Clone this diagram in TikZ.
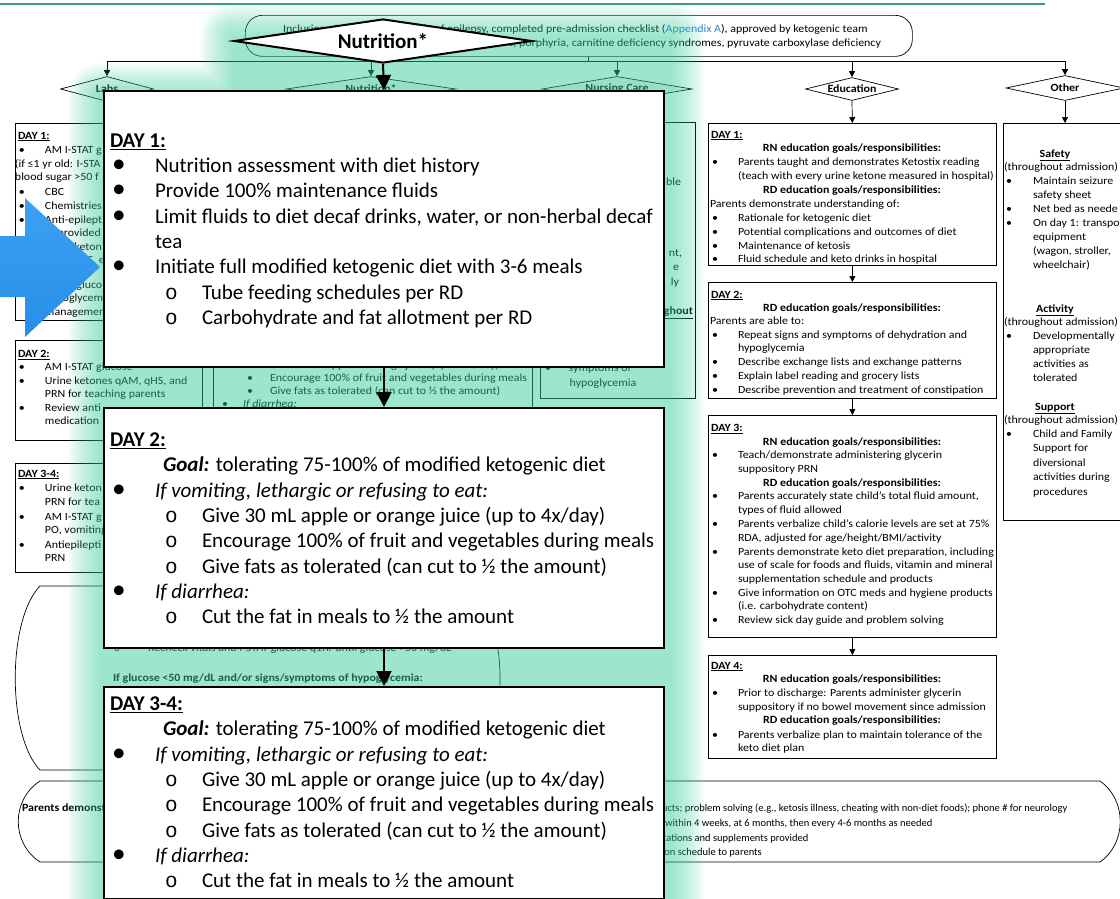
\documentclass[tikz,border=0pt]{standalone}
\usepackage{fontspec}
\setmainfont{Carlito}
\newfontfamily\chartfont{Carlito}[FakeStretch=1.085]
\newfontfamily\courfont{Liberation Mono}
\usetikzlibrary{shapes.geometric,arrows.meta}

\definecolor{glowc}{rgb}{0.24,0.80,0.61}
\definecolor{rulegreen}{rgb}{0.22,0.62,0.47}
\definecolor{linkblue}{rgb}{0.16,0.50,0.86}
\definecolor{arrowtop}{rgb}{0.24,0.63,0.95}
\definecolor{arrowbot}{rgb}{0.15,0.56,0.91}

\newcounter{tl}
\newcommand{\putL}[4][]{\stepcounter{tl}\node[txt,#1] (tx\arabic{tl}) at (#2,#3) {#4};}
\newcommand{\putC}[4][]{\stepcounter{tl}\node[ctxt,#1] (tx\arabic{tl}) at (#2,#3) {#4};}
\newcommand{\putR}[4][]{\stepcounter{tl}\node[etxt,#1] (tx\arabic{tl}) at (#2,#3) {#4};}
% small chart bullet line: bullet x, text x, baseline, text
\newcommand{\sbul}[4]{\putL[sm]{#1}{#3}{•}\putL[sm]{#2}{#3}{#4}}
% large bullet and sub-bullet lines: baseline, text
\newcommand{\bbul}[2]{\putL[big]{112}{#1}{\scalebox{1.3}{•}}\putL[big]{155}{#1}{#2}}
\newcommand{\bsub}[2]{\putL[big,font=\courfont\fontsize{21}{25}\selectfont]{165}{#1}{o}\putL[big]{202}{#1}{#2}}

\tikzset{
  txt/.style={anchor=base west, inner sep=0pt, outer sep=0pt},
  ctxt/.style={anchor=base, inner sep=0pt, outer sep=0pt},
  etxt/.style={anchor=base east, inner sep=0pt, outer sep=0pt},
  sm/.style={font=\chartfont\fontsize{11}{13}\selectfont},
  smf/.style={font=\fontsize{10.5}{12}\selectfont},
  big/.style={font=\fontsize{21}{25}\selectfont},
  chartbox/.style={draw=black, line width=0.7pt, inner sep=0pt, anchor=north west},
  chartdia/.style={diamond, draw=black, line width=0.7pt, fill=white, inner sep=0pt,
    font=\chartfont\bfseries\fontsize{11}{13}\selectfont},
  chartarrow/.style={line width=0.7pt, -{Triangle[length=6pt,width=6pt]}},
  chartline/.style={line width=0.7pt},
  bigbox/.style={draw=black, line width=2pt, fill=white, inner sep=0pt, anchor=north west},
  bigarrow/.style={line width=2pt, -{Triangle[length=15pt,width=15pt]}},
}

\begin{document}
\begin{tikzpicture}[x=1pt,y=-1pt]
\useasboundingbox (0,0) rectangle (1120,898);
\clip (0,0) rectangle (1120,898);

% ---------------- pathway chart underneath ----------------
\draw[rulegreen, line width=1.2pt] (0,4) -- (1045,4);

\node[draw=black, line width=0.7pt, rounded corners=17pt, minimum width=667pt,
      minimum height=41pt, anchor=north west, inner sep=0pt] (incl) at (245,15) {};
\putL[sm]{283}{32.5}{Inclusion: Confirmed diagnosis of epilepsy, completed pre-admission checklist (\textcolor{linkblue}{Appendix A}), approved by ketogenic team}
\putR[sm]{881}{46.5}{Exclusion: fatty acid oxidation disorders, porphyria, carnitine deficiency syndromes, pyruvate carboxylase deficiency}

\node[chartdia, aspect=3.6, minimum width=93pt, minimum height=25pt] (labs) at (107,89) {Labs};
\node[chartdia, aspect=6.8, minimum width=170pt, minimum height=25pt] (nsm) at (371,89) {Nutrition*};
\node[chartdia, aspect=6, minimum width=150pt, minimum height=25pt] (nurs) at (617,89) {Nursing Care};
\node[chartdia, aspect=3.6, minimum width=93pt, minimum height=23pt] (educ) at (852,89) {Education};
\node[chartdia, aspect=4.7, minimum width=118pt, minimum height=25pt] (other) at (1065,88) {Other};

\coordinate (split) at (588,61);
\draw[chartline] (incl.south -| split) -- (split);
\draw[chartarrow] (split) -| (labs.north);
\draw[chartarrow] (split) -| (nsm.north);
\draw[chartarrow] (split) -| (nurs.north);
\draw[chartarrow] (split) -| (educ.north);
\draw[chartarrow] (split) -| (other.north);

% Labs column
\node[chartbox, minimum width=187pt, minimum height=197pt] (l1) at (15,123) {};
\node[chartbox, minimum width=187pt, minimum height=100pt] (l2) at (15,340) {};
\node[chartbox, minimum width=187pt, minimum height=109pt] (l3) at (15,463) {};
\draw[chartarrow] (labs.south) -- (labs.south |- l1.north);
\draw[chartarrow] (l1.south) -- (l2.north);
\draw[chartarrow] (l2.south) -- (l3.north);

\putL[sm]{18}{139}{\textbf{\underline{DAY 1:}}}
\sbul{19}{45}{153.5}{AM I-STAT g}
\putL[sm]{15}{167}{(if ≤1 yr old: I-STA}
\putL[sm]{15}{180.5}{blood sugar >50 f}
\sbul{19}{45}{195}{CBC}
\sbul{19}{45}{209}{Chemistries}
\sbul{19}{45}{223}{Anti-epilept}
\putL[sm]{45}{236.5}{(if provided}
\sbul{19}{45}{250.5}{Urine keton}
\putL[sm]{45}{263.5}{qAM, qHS, ea}
\sbul{19}{45}{288.5}{I-STAT gluco}
\putL[sm]{45}{301.5}{hypoglycem}
\putL[sm]{45}{315.5}{management}

\putL[sm]{18}{357.5}{\textbf{\underline{DAY 2:}}}
\sbul{19}{45}{370.5}{AM I-STAT glucose}
\sbul{19}{45}{384.5}{Urine ketones qAM, qHS, and}
\putL[sm]{45}{397.5}{PRN for teaching parents}
\sbul{19}{45}{411.5}{Review anti}
\putL[sm]{45}{424.5}{medication}

\putL[sm]{18}{477}{\textbf{\underline{DAY 3-4:}}}
\sbul{19}{45}{491.5}{Urine keton}
\putL[sm]{45}{505.5}{PRN for tea}
\sbul{19}{45}{520.5}{AM I-STAT g}
\putL[sm]{45}{533.5}{PO, vomiting}
\sbul{19}{45}{548.5}{Antiepilepti}
\putL[sm]{45}{561.5}{PRN}

% Nutrition column
\node[chartbox, minimum width=319pt, minimum height=450pt] (nb) at (213,122) {};
\draw[chartarrow] (nsm.south) -- (nsm.south |- nb.north);
\sbul{247}{270}{368.5}{Give 30 mL apple or orange juice (up to 4x/day)}
\sbul{247}{270}{381.5}{Encourage 100\% of fruit and vegetables during meals}
\sbul{247}{270}{394.5}{Give fats as tolerated (can cut to ½ the amount)}
\sbul{222}{243}{407.5}{\textit{If diarrhea:}}

% Nursing column
\node[chartbox, minimum width=155pt, minimum height=276pt] (nc) at (540,122) {};
\draw[chartarrow] (nurs.south) -- (nurs.south |- nc.north);
\putR[sm]{681}{185.5}{ble}
\putR[sm]{682}{256.5}{nt,}
\putR[sm]{679}{270}{e}
\putR[sm]{679}{285.5}{ly}
\putR[sm]{693}{314.5}{\textbf{\underline{ghout}}}
\putL[sm]{545}{371.5}{•}
\putC[sm]{600}{371.5}{symptoms of}
\putC[sm]{603}{386.5}{hypoglycemia}

% hypoglycemia protocol
\draw[chartline] (470,586) -- (40,586) .. controls (7,620) and (7,736) .. (40,770)
  -- (470,770) .. controls (510,736) and (510,620) .. (470,586);
\putL[sm,font=\courfont\fontsize{10}{12}\selectfont]{114}{651.5}{o}
\putL[sm]{148}{651.5}{Recheck vitals and I-STAT glucose q1hr until glucose >50 mg/dL}
\putL[sm]{113}{681}{\textbf{If glucose <50 mg/dL and/or signs/symptoms of hypoglycemia:}}

% discharge teaching
\draw[chartline] (40,781) .. controls (11,800) and (11,843) .. (40,862) -- (1100,862)
  .. controls (1127,843) and (1127,800) .. (1100,781) -- cycle;
\putL[sm]{22}{811.5}{\textbf{Parents demonstr}}
\putL[smf]{662}{811.5}{ucts; problem solving (e.g., ketosis illness, cheating with non-diet foods); phone \# for neurology}
\putL[smf]{665}{826.5}{within 4 weeks, at 6 months, then every 4-6 months as needed}
\putL[smf]{662}{841.5}{cations and supplements provided}
\putL[smf]{662}{855.5}{ion schedule to parents}

% Education column
\node[chartbox, minimum width=288pt, minimum height=142pt] (e1) at (708,123) {};
\node[chartbox, minimum width=288pt, minimum height=116pt] (e2) at (708,282) {};
\node[chartbox, minimum width=288pt, minimum height=222pt] (e3) at (708,415) {};
\node[chartbox, minimum width=288pt, minimum height=103pt] (e4) at (708,655) {};
\draw[chartarrow] (educ.south) -- (e1.north);
\draw[chartarrow] (e1.south) -- (e2.north);
\draw[chartarrow] (e2.south) -- (e3.north);
\draw[chartarrow] (e3.south) -- (e4.north);

\putL[sm]{711}{138}{\textbf{\underline{DAY 1:}}}
\putC[sm]{852}{151.5}{\textbf{RN education goals/responsibilities:}}
\sbul{712}{738}{165.5}{Parents taught and demonstrates Ketostix reading}
\putL[sm]{738}{179.5}{(teach with every urine ketone measured in hospital)}
\putC[sm]{852}{193.5}{\textbf{RD education goals/responsibilities:}}
\putL[sm]{710}{207}{Parents demonstrate understanding of:}
\sbul{712}{738}{221}{Rationale for ketogenic diet}
\sbul{712}{738}{235}{Potential complications and outcomes of diet}
\sbul{712}{738}{249}{Maintenance of ketosis}
\sbul{712}{738}{262.5}{Fluid schedule and keto drinks in hospital}

\putL[sm]{711}{298}{\textbf{\underline{DAY 2:}}}
\putC[sm]{852}{311.5}{\textbf{RD education goals/responsibilities:}}
\putL[sm]{710}{324.5}{Parents are able to:}
\sbul{712}{738}{338.5}{Repeat signs and symptoms of dehydration and}
\putL[sm]{738}{351.5}{hypoglycemia}
\sbul{712}{738}{365.5}{Describe exchange lists and exchange patterns}
\sbul{712}{738}{379.5}{Explain label reading and grocery lists}
\sbul{712}{738}{393}{Describe prevention and treatment of constipation}

\putL[sm]{711}{431.5}{\textbf{\underline{DAY 3:}}}
\putC[sm]{852}{445}{\textbf{RN education goals/responsibilities:}}
\sbul{712}{738}{458.5}{Teach/demonstrate administering glycerin}
\putL[sm]{738}{472}{suppository PRN}
\putC[sm]{852}{486}{\textbf{RD education goals/responsibilities:}}
\sbul{712}{738}{499.5}{Parents accurately state child’s total fluid amount,}
\putL[sm]{738}{513}{types of fluid allowed}
\sbul{712}{738}{527}{Parents verbalize child’s calorie levels are set at 75\%}
\putL[sm]{738}{541}{RDA, adjusted for age/height/BMI/activity}
\sbul{712}{738}{555}{Parents demonstrate keto diet preparation, including}
\putL[sm]{738}{568.5}{use of scale for foods and fluids, vitamin and mineral}
\putL[sm]{738}{582}{supplementation schedule and products}
\sbul{712}{738}{596}{Give information on OTC meds and hygiene products}
\putL[sm]{738}{609.5}{(i.e. carbohydrate content)}
\sbul{712}{738}{623.5}{Review sick day guide and problem solving}

\putL[sm]{711}{669}{\textbf{\underline{DAY 4:}}}
\putC[sm]{852}{682}{\textbf{RN education goals/responsibilities:}}
\sbul{712}{738}{696}{Prior to discharge: Parents administer glycerin}
\putL[sm]{738}{710}{suppository if no bowel movement since admission}
\putC[sm]{852}{723.5}{\textbf{RD education goals/responsibilities:}}
\sbul{712}{738}{738}{Parents verbalize plan to maintain tolerance of the}
\putL[sm]{738}{751.5}{keto diet plan}

% Other column
\node[chartbox, minimum width=125pt, minimum height=397pt] (o1) at (1003,123) {};
\draw[chartarrow] (other.south) -- (o1.north -| other.south);
\putC[sm]{1055}{157}{\textbf{\underline{Safety}}}
\putL[sm]{1004}{170.5}{(throughout admission)}
\sbul{1006}{1033}{184.5}{Maintain seizure}
\putL[sm]{1033}{198}{safety sheet}
\sbul{1006}{1033}{212}{Net bed as neede}
\sbul{1006}{1033}{226}{On day 1: transpor}
\putL[sm]{1033}{240}{equipment}
\putL[sm]{1033}{254}{(wagon, stroller,}
\putL[sm]{1033}{268}{wheelchair)}
\putC[sm]{1055}{312}{\textbf{\underline{Activity}}}
\putL[sm]{1004}{325.5}{(throughout admission)}
\sbul{1006}{1033}{339.5}{Developmentally}
\putL[sm]{1033}{353}{appropriate}
\putL[sm]{1033}{367}{activities as}
\putL[sm]{1033}{381}{tolerated}
\putC[sm]{1055}{410}{\textbf{\underline{Support}}}
\putL[sm]{1004}{423.5}{(throughout admission)}
\sbul{1006}{1033}{437.5}{Child and Family}
\putL[sm]{1033}{451.5}{Support for}
\putL[sm]{1033}{466}{diversional}
\putL[sm]{1033}{480.5}{activities during}
\putL[sm]{1033}{495}{procedures}

% ---------------- soft green glow ----------------
\foreach \k in {0,...,15}{
  \pgfmathsetmacro{\o}{32*(1-\k/15)}
  \pgfmathsetmacro{\rc}{\o+0.5}
  \fill[glowc, fill opacity=0.045, rounded corners=\rc pt]
    ({232-\o},{36-\o}) rectangle ({672+\o},{95+\o})
    ({100-\o},{95-\o}) rectangle ({672+\o},{930+\o});
}

% ---------------- blue pointer ----------------
\shade[top color=arrowtop, bottom color=arrowbot]
  (-5,236) -- (25,236) -- (25,198) -- (100,267) -- (25,337) -- (25,297) -- (-5,297) -- cycle;

% ---------------- nutrition pathway ----------------
\node[diamond, draw=black, line width=2pt, fill=white, inner sep=0pt, aspect=6.8,
      minimum width=298pt, minimum height=44pt,
      font=\bfseries\fontsize{21}{25}\selectfont] (nut) at (383,41) {Nutrition*};

\node[bigbox, minimum width=560pt, minimum height=276pt] (d1) at (103,90) {};
\node[bigbox, minimum width=560pt, minimum height=240pt] (d2) at (103,407) {};
\node[bigbox, minimum width=560pt, minimum height=212pt] (d3) at (103,686) {};

\draw[bigarrow] (nut.south) -- (d1.north);
\draw[bigarrow] (d1.south) -- (d2.north);
\draw[bigarrow] (d2.south) -- (d3.north);

\putL[big]{110}{147.5}{\textbf{\underline{DAY 1:}}}
\bbul{172.5}{Nutrition assessment with diet history}
\bbul{197.8}{Provide 100\% maintenance fluids}
\bbul{223.1}{Limit fluids to diet decaf drinks, water, or non-herbal decaf}
\putL[big]{155}{248.4}{tea}
\bbul{273.7}{Initiate full modified ketogenic diet with 3-6 meals}
\bsub{299}{Tube feeding schedules per RD}
\bsub{324.3}{Carbohydrate and fat allotment per RD}

\putL[big]{110}{446.5}{\textbf{\underline{DAY 2:}}}
\putL[big]{163}{471.8}{\textbf{\textit{Goal:}} tolerating 75-100\% of modified ketogenic diet}
\bbul{497.1}{\textit{If vomiting, lethargic or refusing to eat:}}
\bsub{522.4}{Give 30 mL apple or orange juice (up to 4x/day)}
\bsub{547.7}{Encourage 100\% of fruit and vegetables during meals}
\bsub{573}{Give fats as tolerated (can cut to ½ the amount)}
\bbul{598.3}{\textit{If diarrhea:}}
\bsub{623.6}{Cut the fat in meals to ½ the amount}

\putL[big]{110}{710.5}{\textbf{\underline{DAY 3-4:}}}
\putL[big]{163}{735.8}{\textbf{\textit{Goal:}} tolerating 75-100\% of modified ketogenic diet}
\bbul{761.1}{\textit{If vomiting, lethargic or refusing to eat:}}
\bsub{786.4}{Give 30 mL apple or orange juice (up to 4x/day)}
\bsub{811.7}{Encourage 100\% of fruit and vegetables during meals}
\bsub{837}{Give fats as tolerated (can cut to ½ the amount)}
\bbul{862.3}{\textit{If diarrhea:}}
\bsub{887.6}{Cut the fat in meals to ½ the amount}
\end{tikzpicture}
\end{document}
